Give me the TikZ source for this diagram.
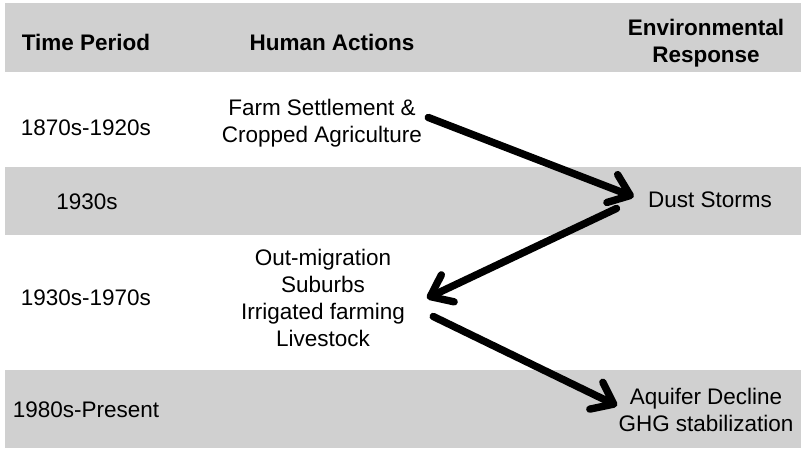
\documentclass[tikz,border=0pt]{standalone}
\usepackage{fontspec}
\setmainfont{Liberation Sans}
\usetikzlibrary{arrows.meta, positioning}

\definecolor{bandgray}{RGB}{208,208,208}

\begin{document}
\begin{tikzpicture}[x=0.02cm, y=-0.02cm, font=\fontsize{12.8}{15.4}\selectfont]

	\tikzset{
		band/.style={
				fill=bandgray, draw=none
			},
		head/.style={
				align=center, font=\fontsize{12.8}{15.4}\selectfont\bfseries
			},
		period/.style={
				align=center
			},
		entry/.style={
				align=center
			},
		flow/.style={
				line width=4.2pt, line cap=round, -{Straight Barb[length=11pt, width=17pt, line cap=round, line join=round]}
			},
	}

	\useasboundingbox (0,0) rectangle (801,449);

	% shaded rows
	\fill[band] (5,3) rectangle (801,72);
	\fill[band] (5,167) rectangle (801,235);
	\fill[band] (5,370) rectangle (801,448);

	\node[head](hperiod) at (86,42){Time Period};
	\node[head](hactions) at (332,42){Human Actions};
	\node[head](hresponse) at (706,43){Environmental\\Response};

	\node[period](p1) at (86,128){1870s-1920s};
	\node[period](p2) at (87,202){1930s};
	\node[period](p3) at (86,298){1930s-1970s};
	\node[period](p4) at (86,410){1980s-Present};

	\node[entry](farm) at (322,123){Farm Settlement \&\\Cropped Agriculture};
	\node[entry](dust) at (710,200){Dust Storms};
	\node[entry](migr) at (323,298){Out-migration\\Suburbs\\Irrigated farming\\Livestock};
	\node[entry](aquifer) at (706,410){Aquifer Decline\\GHG stabilization};

	\draw[flow, shorten <=0pt, shorten >=5pt] (farm.3) -- (dust.west);
	\draw[flow, shorten <=16pt, shorten >=10pt] (dust.177) -- (migr.-5);
	\draw[flow, shorten <=14pt, shorten >=-3pt] (migr.-5) -- (aquifer.176);

\end{tikzpicture}
\end{document}
